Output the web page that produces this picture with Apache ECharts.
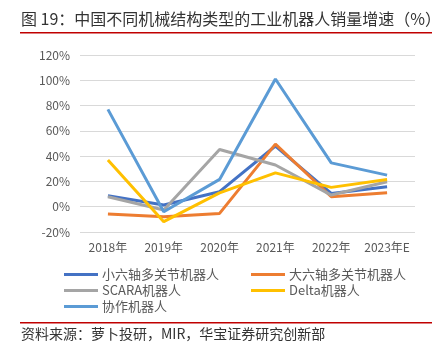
<!DOCTYPE html>
<html><head><meta charset="utf-8">
<script src="https://cdn.jsdelivr.net/npm/echarts@6/dist/echarts.min.js"></script>
<style>html,body{margin:0;padding:0;background:#fff}#c{width:444px;height:348px}</style>
</head><body><div id="c"></div>
<script>
const categories = ['2018年','2019年','2020年','2021年','2022年','2023年E'];
const smallSixAxis = [8.7, 1.3, 11.9, 48, 10.5, 15.8];
const largeSixAxis = [-5.8, -7.9, -5.3, 49.5, 7.9, 11];
const scara = [7.9, -2.6, 45.3, 33, 9.2, 19.7];
const delta = [36.9, -11.8, 11, 26.8, 15.3, 21.6];
const cobot = [77, -4, 21.6, 101, 34.7, 25];
const seriesNames = ['小六轴多关节机器人','大六轴多关节机器人','SCARA机器人','Delta机器人','协作机器人'];
const seriesData = [smallSixAxis, largeSixAxis, scara, delta, cobot];
const colors = ['#4472C4','#ED7D31','#A5A5A5','#FFC000','#5B9BD5'];
const yTicks = {min: -20, max: 120, interval: 20};
const titleText = '图 19：中国不同机械结构类型的工业机器人销量增速（%）';
const sourceText = '资料来源：萝卜投研，MIR，华宝证券研究创新部';

const font = '"Noto Sans CJK SC", "Noto Sans", sans-serif';
const chart = echarts.init(document.getElementById('c'));
const legendStyle = {
  orient: 'vertical', itemWidth: 34, itemHeight: 3, itemGap: 3, icon: 'rect',
  textStyle: {fontSize: 13, color: '#595959', fontFamily: font, lineHeight: 13, padding: [0,0,0,-1]}
};
chart.setOption({
  animation: false,
  textStyle: {fontFamily: font},
  grid: {left: 80, right: 29, top: 55, bottom: 116},
  xAxis: {
    type: 'category', data: categories, boundaryGap: true,
    axisLine: {show: false}, axisTick: {show: false},
    axisLabel: {color: '#595959', fontSize: 12, margin: 9, interval: 0}
  },
  yAxis: {
    type: 'value', min: yTicks.min, max: yTicks.max, interval: yTicks.interval,
    axisLine: {show: false}, axisTick: {show: false},
    splitLine: {lineStyle: {color: '#D9D9D9', width: 1}},
    axisLabel: {color: '#595959', fontSize: 12, margin: 10, formatter: v => v + '%'}
  },
  legend: [
    Object.assign({left: 59, top: 263, data: [seriesNames[0], seriesNames[2], seriesNames[4]]}, legendStyle),
    Object.assign({left: 246, top: 263, data: [seriesNames[1], seriesNames[3]]}, legendStyle)
  ],
  series: seriesNames.map((n, i) => ({
    name: n, type: 'line', data: seriesData[i], symbol: 'none',
    lineStyle: {width: 3, color: colors[i]}, itemStyle: {color: colors[i]}
  })),
  graphic: [
    {type: 'text', left: 21, top: 11, style: {text: titleText, fontSize: 16, fill: '#333333', fontFamily: font}},
    {type: 'rect', shape: {x: 20, y: 32, width: 412, height: 1.5}, style: {fill: '#C00000'}},
    {type: 'rect', shape: {x: 20, y: 322, width: 412, height: 1.5}, style: {fill: '#C00000'}},
    {type: 'text', left: 21, top: 327, style: {text: sourceText, fontSize: 14, fill: '#333333', fontFamily: font}}
  ]
});
</script></body></html>
